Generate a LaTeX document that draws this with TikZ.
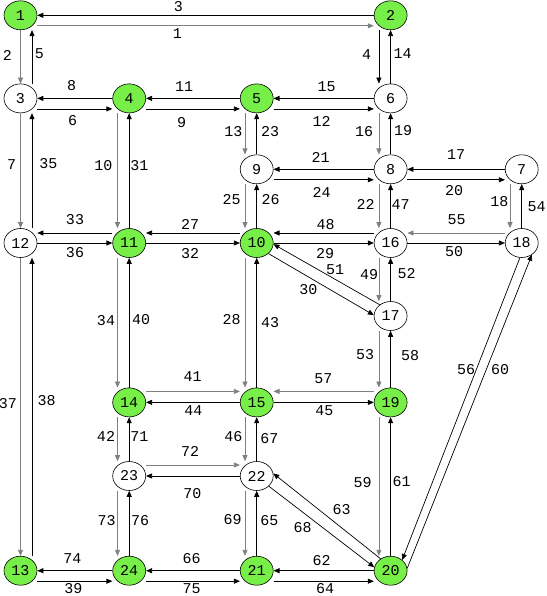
\documentclass[tikz,border=0pt]{standalone}
\usepackage{fontspec}
\newfontfamily\lmono{Liberation Mono}
\usetikzlibrary{shapes.geometric,arrows.meta}
\definecolor{ngreen}{RGB}{120,238,72}
\begin{document}
\begin{tikzpicture}[x=1pt,y=-1pt,
 base/.style={ellipse,draw,line width=0.6pt,minimum width=33pt,minimum height=29pt,inner sep=0pt,font=\lmono\fontsize{15}{15}\selectfont},
 wn/.style={base,fill=white},
 gn/.style={base,fill=ngreen},
 arr/.style={-{Triangle[length=6pt,width=5pt]},line width=0.7pt},
 blk/.style={draw=black},
 gry/.style={draw=black!50},
 lab/.style={font=\lmono\fontsize{15}{15}\selectfont,inner sep=0pt}]
\useasboundingbox (0,0) rectangle (546,596);
% nodes
\node[gn] (n1) at (20.5,15.3) {1};
\node[gn] (n2) at (390.6,15.3) {2};
\node[wn] (n3) at (20.5,98.4) {3};
\node[gn] (n4) at (129.2,98.4) {4};
\node[gn] (n5) at (256.7,98.4) {5};
\node[wn] (n6) at (390.6,98.4) {6};
\node[wn] (n7) at (521.7,169.3) {7};
\node[wn] (n8) at (390.6,169.3) {8};
\node[wn] (n9) at (256.7,169.3) {9};
\node[gn] (n10) at (256.7,243) {10};
\node[gn] (n11) at (129.2,243) {11};
\node[wn] (n12) at (20.5,243) {12};
\node[gn] (n13) at (20.5,570.7) {13};
\node[gn] (n14) at (129.2,402.4) {14};
\node[gn] (n15) at (256.7,402.4) {15};
\node[wn] (n16) at (390.6,243) {16};
\node[wn] (n17) at (390.6,316) {17};
\node[wn] (n18) at (521.7,243) {18};
\node[gn] (n19) at (390.6,402.4) {19};
\node[gn] (n20) at (390.6,570.7) {20};
\node[gn] (n21) at (256.7,570.7) {21};
\node[wn] (n22) at (256.7,476) {22};
\node[wn] (n23) at (129.2,476) {23};
\node[gn] (n24) at (129.2,570.7) {24};
% horizontal: centre R->L, lower L->R
\foreach \L/\R/\cc/\co in {n1/n2/blk/gry, n3/n4/blk/blk, n4/n5/blk/blk, n5/n6/blk/blk, n9/n8/blk/blk, n8/n7/blk/blk, n13/n24/blk/blk, n24/n21/blk/blk, n21/n20/blk/blk}{
 \draw[arr,\cc] (\R) -- (\L);
 \draw[arr,\co] ([yshift=-10.5pt]\L.east) -- ([yshift=-10.5pt]\R.west);
}
% row 243: upper R->L, centre L->R
\foreach \L/\R/\cu/\cc in {n12/n11/blk/blk, n11/n10/blk/blk, n10/n16/blk/blk, n16/n18/gry/blk}{
 \draw[arr,\cu] ([yshift=10pt]\R.west) -- ([yshift=10pt]\L.east);
 \draw[arr,\cc] (\L) -- (\R);
}
% rows 402 / 476
\draw[arr,gry] ([yshift=11pt]n14.east) -- ([yshift=11pt]n15.west);
\draw[arr] (n15) -- (n14);
\draw[arr,gry] ([yshift=11pt]n19.west) -- ([yshift=11pt]n15.east);
\draw[arr] (n15) -- (n19);
\draw[arr,gry] ([yshift=11pt]n23.east) -- ([yshift=11pt]n22.west);
\draw[arr] (n22) -- (n23);
% left column: centre down, right offset up
\foreach \T/\B in {n1/n3, n3/n12, n12/n13}{
 \draw[arr,gry] (\T) -- (\B);
 \draw[arr] ([xshift=11.5pt]\B.north) -- ([xshift=11.5pt]\T.south);
}
% other columns: left offset down, centre up
\foreach \T/\B/\cd in {n4/n11/gry, n11/n14/gry, n14/n23/gry, n23/n24/gry, n5/n9/gry, n9/n10/gry, n10/n15/gry, n15/n22/gry, n22/n21/gry, n2/n6/blk, n6/n8/gry, n8/n16/gry, n16/n17/gry, n17/n19/gry, n19/n20/gry, n7/n18/gry}{
 \draw[arr,\cd] ([xshift=-11.7pt]\T.south) -- ([xshift=-11.7pt]\B.north);
 \draw[arr] (\B) -- (\T);
}
% diagonals
\draw[arr] (n17.134) -- (n10.356);
\draw[arr] (n10.318) -- (n17.177);
\draw[arr] (n20.130) -- (n22.9);
\draw[arr] (n22.320) -- (n20.168);
\draw[arr] (n18.263) -- (n20.43);
\draw[arr] (n20.8) -- (n18.311);
% labels
\foreach \n/\x/\y in {3/178.3/6.5, 1/177.3/33.3, 2/7.3/55, 5/39.3/54, 4/366.7/55, 14/402.7/54, 8/71.7/86, 11/184/86.5, 15/326.7/86.7, 6/72.7/121, 9/181.7/122.5, 12/321.7/121, 13/233.3/132, 23/270/132, 16/364/131.7, 19/403/130.5, 21/320.7/157.7, 17/456/155, 7/11.7/164.3, 35/48.3/163.3, 10/103.3/166, 31/139.3/166, 24/321.7/192.7, 20/454/191, 25/231.7/200, 26/270.7/200, 22/365.7/204.3, 47/400.7/204.3, 18/499.3/201.7, 54/536.7/206.7, 33/75/220, 27/190/224, 48/325.7/225, 55/456.7/219.3, 36/75/252.7, 32/190/254, 29/325/253.5, 50/454/252, 51/335/270, 49/369/275, 52/406.7/274, 30/308.3/290, 34/106/321, 40/141/320, 28/231.7/319.3, 43/270/322.3, 53/365/355, 58/410/356, 56/466/370, 60/500/369.3, 37/8/404, 38/46.7/401, 41/192.7/376.7, 57/323.3/379, 44/193.3/410.7, 45/324.3/411, 42/106/436.7, 71/139.3/436.7, 46/233.3/436.7, 67/269.3/438.3, 72/190/451.7, 70/192.3/493.3, 59/362.7/482.7, 61/401.7/481.7, 63/341.7/510, 68/302.7/527.3, 73/106.7/521, 76/140/521, 69/232.7/520, 65/269.3/521, 74/72.3/559, 66/191.7/559, 62/321.7/560.7, 39/73.3/589, 75/191.7/588.5, 64/325/589}{
 \node[lab] (t\n) at (\x,\y) {\n};
}
\end{tikzpicture}
\end{document}
